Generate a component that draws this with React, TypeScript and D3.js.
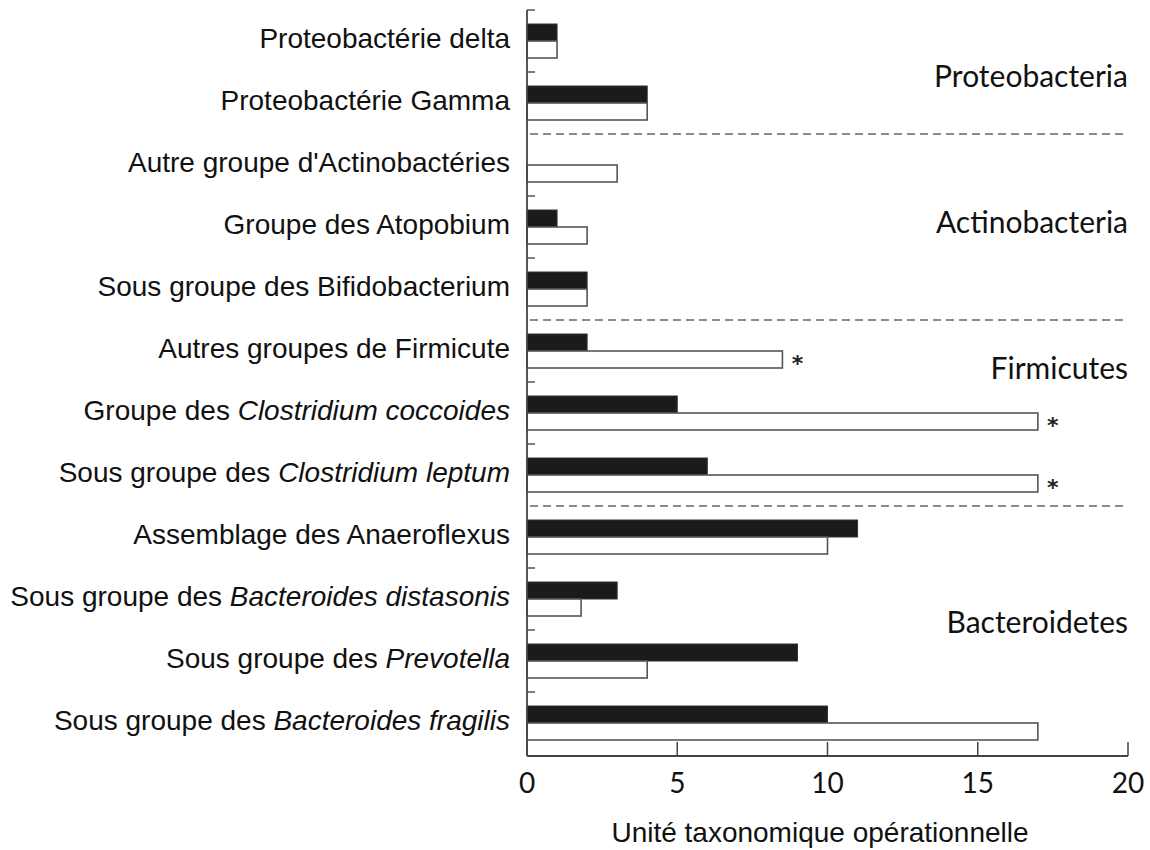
import React from 'react'
import * as d3 from 'd3'

// categories: [plain part, italic part]
const categories: [string, string][] = [
  ['Proteobactérie delta', ''],
  ['Proteobactérie Gamma', ''],
  ["Autre groupe d'Actinobactéries", ''],
  ['Groupe des Atopobium', ''],
  ['Sous groupe des Bifidobacterium', ''],
  ['Autres groupes de Firmicute', ''],
  ['Groupe des ', 'Clostridium coccoides'],
  ['Sous groupe des ', 'Clostridium leptum'],
  ['Assemblage des Anaeroflexus', ''],
  ['Sous groupe des ', 'Bacteroides distasonis'],
  ['Sous groupe des ', 'Prevotella'],
  ['Sous groupe des ', 'Bacteroides fragilis'],
]

const blackValues = [1, 4, 0, 1, 2, 2, 5, 6, 11, 3, 9, 10]
const whiteValues = [1, 4, 3, 2, 2, 8.5, 17, 17, 10, 1.8, 4, 17]
const significant = [false, false, false, false, false, true, true, true, false, false, false, false]

// group name, first row, last row, label row position
const groups: [string, number, number, number][] = [
  ['Proteobacteria', 0, 1, 1.05],
  ['Actinobacteria', 2, 4, 3.4],
  ['Firmicutes', 5, 7, 5.75],
  ['Bacteroidetes', 8, 11, 9.85],
]

const xTicks = [0, 5, 10, 15, 20]

const W = 1150
const H = 850
const left = 527
const right = 1128
const top = 10
const bottom = 754
const axisY = 756

export default function App() {
  const x = d3.scaleLinear().domain([0, 20]).range([left, right])
  const y = d3
    .scaleBand<number>()
    .domain(d3.range(categories.length))
    .range([top, bottom])
  const step = y.step()
  const barH = 17
  const rowPos = (r: number) => top + r * step

  // boundaries between groups get a dashed line instead of a tick
  const dashedRows = groups.slice(1).map((g) => g[1])
  const tickRows = d3.range(categories.length).filter((i) => !dashedRows.includes(i))

  const futura = "'Lato', 'DejaVu Sans', sans-serif"
  const arial = "'Liberation Sans', Arial, sans-serif"

  return (
    <svg
      width={W}
      height={H}
      style={{ position: 'absolute', left: 0, top: 0, background: '#fff' }}
    >
      {/* category labels */}
      {categories.map((c, i) => (
        <text
          key={'lab' + i}
          x={510}
          y={(y(i) as number) + step / 2 - 3}
          textAnchor="end"
          dominantBaseline="central"
          fontFamily={arial}
          fontSize={28}
          fill="#111"
        >
          {c[0]}
          {c[1] && <tspan fontStyle="italic">{c[1]}</tspan>}
        </text>
      ))}

      {/* dashed separators */}
      {dashedRows.map((r) => (
        <line
          key={'dash' + r}
          x1={left + 3}
          x2={right}
          y1={rowPos(r)}
          y2={rowPos(r)}
          stroke="#666"
          strokeWidth={1.5}
          strokeDasharray="8,5"
        />
      ))}

      {/* bars */}
      {categories.map((_, i) => {
        const c = (y(i) as number) + step / 2
        return (
          <g key={'bar' + i}>
            {blackValues[i] > 0 && (
              <rect
                x={x(0)}
                y={c - barH}
                width={x(blackValues[i]) - x(0)}
                height={barH}
                fill="#1b1b1b"
                stroke="#333"
                strokeWidth={1}
              />
            )}
            <rect
              x={x(0)}
              y={c}
              width={x(whiteValues[i]) - x(0)}
              height={barH}
              fill="#fff"
              stroke="#555"
              strokeWidth={1.6}
            />
            {significant[i] && (
              <text
                x={x(whiteValues[i]) + 15}
                y={c + barH / 2 + 11}
                textAnchor="middle"
                fontFamily="'DejaVu Sans', sans-serif"
                fontSize={22}
                fontWeight="bold"
                fill="#222"
              >
                *
              </text>
            )}
          </g>
        )
      })}

      {/* y axis */}
      <line x1={left} x2={left} y1={top} y2={axisY} stroke="#444" strokeWidth={1.8} />
      {tickRows.map((r) => (
        <line
          key={'yt' + r}
          x1={left}
          x2={left + 8}
          y1={rowPos(r)}
          y2={rowPos(r)}
          stroke="#555"
          strokeWidth={1.5}
        />
      ))}

      {/* x axis */}
      <line x1={left} x2={right} y1={axisY} y2={axisY} stroke="#444" strokeWidth={1.8} />
      {xTicks.map((t) => (
        <g key={'xt' + t}>
          <line x1={x(t)} x2={x(t)} y1={axisY} y2={axisY - 14} stroke="#444" strokeWidth={1.5} />
          <text
            x={x(t)}
            y={axisY + 37}
            textAnchor="middle"
            fontFamily={futura}
            fontSize={28}
            fill="#111"
          >
            {t}
          </text>
        </g>
      ))}

      <text
        x={820}
        y={842}
        textAnchor="middle"
        fontFamily={arial}
        fontSize={28}
        fill="#111"
      >
        Unité taxonomique opérationnelle
      </text>

      {/* group labels */}
      {groups.map((g) => (
        <text
          key={g[0]}
          x={right}
          y={rowPos(g[3])}
          textAnchor="end"
          dominantBaseline="central"
          fontFamily={futura}
          fontSize={30}
          fill="#111"
        >
          {g[0]}
        </text>
      ))}
    </svg>
  )
}
